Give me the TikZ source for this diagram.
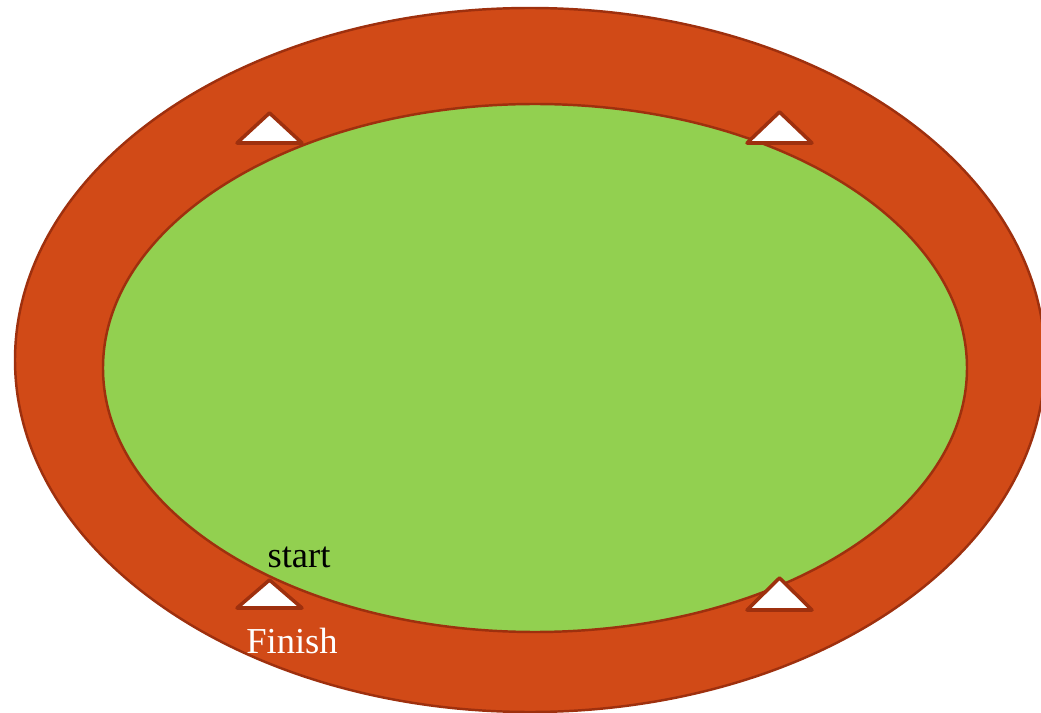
\documentclass[tikz,border=0pt]{standalone}
\usepackage{fontspec}
\setmainfont{Liberation Serif}
\usepackage{tikz}
\usetikzlibrary{positioning}
\usepackage{xcolor}
\definecolor{trackred}{RGB}{209, 74, 23}
\definecolor{trackline}{RGB}{158, 48, 14}
\definecolor{fieldgreen}{RGB}{146, 208, 80}

\begin{document}
\begin{tikzpicture}[scale=1.0,
    edge/.style={draw=trackline, line width=0.7pt},
    marker/.style={fill=white, draw=trackline, line width=1pt, line join=round},
    lbl/.style={font=\fontsize{10.4}{12}\selectfont, inner sep=0pt}]
        \useasboundingbox (0,0) rectangle (10.41,-7.13);
        \def\hw{0.325}
        % track and field
        \filldraw[edge, fill=trackred] (5.30,-3.60) ellipse [x radius=5.15, y radius=3.52];
        \filldraw[edge, fill=fieldgreen] (5.35,-3.68) ellipse [x radius=4.32, y radius=2.64];
        % markers on the track
        \foreach \x/\top/\bot in {2.695/1.13/1.43, 7.795/1.12/1.43,
          2.695/5.80/6.08, 7.795/5.78/6.10}{
          \filldraw[marker] (\x,-\top) -- (\x+\hw,-\bot) -- (\x-\hw,-\bot) -- cycle;
        }
        \node[lbl, text=black] (start) at (2.99,-5.57) {start};
        \node[lbl, text=white] (finish) at (2.92,-6.41) {Finish};
      \end{tikzpicture}
\end{document}
